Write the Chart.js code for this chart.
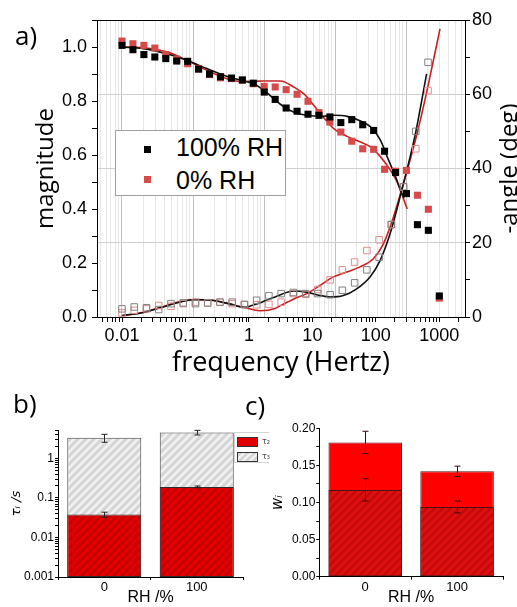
<!DOCTYPE html>
<html>
<head>
<meta charset="utf-8">
<script src="https://cdn.jsdelivr.net/npm/chart.js@4.4.1/dist/chart.umd.min.js"></script>
<style>
  html, body { margin:0; padding:0; background:#fff; }
  body { width:517px; height:607px; position:relative; overflow:hidden; }
  canvas { position:absolute; display:block; }
  .t { position:absolute; white-space:nowrap; color:#000; line-height:1; }
  .panel { font-family:"Open Sans", sans-serif; font-size:26px; }
  #legA { position:absolute; left:115px; top:130px; width:169px; height:64px; border:1px solid #a0a0a0; background:#fff; }
  #legA .sw { position:absolute; width:7px; height:7px; }
  #legA .tx { position:absolute; font-family:"Liberation Sans", Arial, sans-serif; font-size:25px; line-height:25px; white-space:nowrap; }
  #legB { position:absolute; left:234px; top:432px; width:34px; height:29px; border:1px solid #d4d4d4; border-right:none; background:#fff; }
  #legB .sw { position:absolute; left:2px; width:19px; height:8px; border:1px solid #333; }
  #legB .tx { position:absolute; left:27px; font-family:"DejaVu Sans", sans-serif; font-size:8px; line-height:8px; color:#444; }
</style>
</head>
<body>
<canvas id="ca" width="517" height="380" style="left:0;top:0"></canvas>
<canvas id="cb" width="262" height="222" style="left:0;top:385px"></canvas>
<canvas id="cc" width="255" height="222" style="left:262px;top:385px"></canvas>
<div class="t panel" style="left:15px;top:22px">a)</div>
<div class="t panel" style="left:13px;top:390px">b)</div>
<div class="t panel" style="left:245px;top:392px">c)</div>
<div id="legA"></div>
<div id="legB"></div>
<script>
// ---------------- DATA ----------------
const freq = [0.01,0.01487,0.02212,0.0329,0.04894,0.07279,0.1083,0.161,0.2395,0.3562,0.5298,0.788,1.172,1.743,2.593,3.857,5.736,8.532,12.69,18.88,28.08,41.75,62.1,92.37,137.4,204.3,303.9,452.0,672.3,1000];
const mag100 = [1.006,0.990,0.972,0.963,0.957,0.948,0.947,0.918,0.900,0.890,0.885,0.878,0.866,0.833,0.806,0.774,0.762,0.751,0.747,0.741,0.720,0.731,0.712,0.691,0.614,0.535,0.457,0.342,0.321,0.078];
const mag0 = [1.022,1.012,1.006,0.996,0.972,0.955,0.938,0.920,0.898,0.886,0.883,0.877,0.864,0.854,0.852,0.842,0.825,0.799,0.757,0.722,0.685,0.651,0.623,0.621,0.547,0.540,0.543,0.451,0.399,0.070];
const angFreq = [0.01,0.01487,0.02212,0.0329,0.04894,0.07279,0.1083,0.161,0.2395,0.3562,0.5298,0.788,1.172,1.743,2.593,3.857,5.736,8.532,12.69,18.88,28.08,41.75,62.1,92.37,137.4,204.3];
const ang100 = [2.2,2.7,2.5,2.0,3.6,3.8,3.6,3.8,4.0,4.0,3.4,4.5,5.7,6.3,6.6,6.3,6.3,6.0,7.2,9.2,12.7,16.1,24.9,35.1,50.0,68.6];
const ang0 = [1.1,1.8,2.2,3.1,2.9,3.6,4.0,3.8,4.0,3.6,3.3,3.3,3.4,4.0,6.3,6.1,7.4,10.0,12.7,14.8,17.9,20.8,24.9,35.0,45.3,61.0];

const fitMag100F = [0.01,0.0217,0.0507,0.105,0.217,0.45,0.73,1.19,1.71,3.13,5.07,8.24,13.4,21.7,35.3,57.3,82.4,118.6,151,205,245,277];
const fitMag100  = [1.0,0.994,0.975,0.951,0.92,0.891,0.877,0.864,0.84,0.788,0.759,0.747,0.743,0.747,0.743,0.726,0.704,0.654,0.593,0.519,0.469,0.44];
const fitMag0F = [0.01,0.0217,0.0507,0.105,0.217,0.45,0.73,1.19,1.71,3.13,5.07,7.29,10.5,15.1,21.7,35.3,57.3,82.4,118.6,170.6,217,312];
const fitMag0  = [1.0,0.997,0.982,0.951,0.914,0.882,0.872,0.873,0.874,0.874,0.852,0.827,0.784,0.738,0.698,0.669,0.648,0.630,0.593,0.543,0.5,0.40];
const fitAng100F = [0.01,0.0211,0.0362,0.0621,0.1067,0.183,0.315,0.54,0.67,0.927,1.43,2.59,3.99,6.15,8.51,13.1,20.2,31.1,43.1,59.6,82.3,134,195];
const fitAng100  = [0.4,1.3,2.6,3.9,4.7,4.5,3.6,2.6,3.1,4.0,5.4,7.0,6.7,5.8,5.4,5.8,7.6,10.8,15.2,22.4,32.3,48.9,65.5];
const fitAng0F = [0.01,0.0211,0.0362,0.0621,0.1067,0.183,0.315,0.54,0.88,1.43,1.68,2.59,3.99,6.15,9.48,14.6,22.5,34.7,48.0,66.4,91.7,141,195,301];
const fitAng0  = [0.3,1.35,2.7,4.0,4.66,4.5,3.6,2.5,1.7,2.3,3.0,4.8,6.3,8.5,10.8,12.1,13.5,15.7,19.7,26.9,35.9,48.9,60.5,77.6];

const xTickVals = [0.01,0.1,1,10,100,1000];
const xTickLabels = ['0.01','0.1','1','10','100','1000'];
const yTickVals = [0,0.2,0.4,0.6,0.8,1.0];
const yTickLabels = ['0.0','0.2','0.4','0.6','0.8','1.0'];
const y2TickVals = [0,20,40,60,80];
const y2TickLabels = ['0','20','40','60','80'];

const rhCats = ['0','100'];
const tau2 = [0.038,0.19];
const tau2Err = [0.0055,0.01];
const tau3 = [3.3,4.5];
const tau3Err = [0.75,0.6];
const bTickVals = [0.001,0.01,0.1,1];
const bTickLabels = ['0.001','0.01','0.1','1'];

const w2 = [0.181,0.142];
const w2Err = [0.015,0.007];
const w3 = [0.117,0.094];
const w3Err = [0.015,0.008];
const cTickVals = [0,0.05,0.10,0.15,0.20];
const cTickLabels = ['0.00','0.05','0.10','0.15','0.20'];

// ---------------- HELPERS ----------------
const pts = (xs, ys) => xs.map((x, i) => ({x, y: ys[i]}));
const near = (a, b) => Math.abs(a - b) <= 1e-6 * Math.max(1, Math.abs(b));
const labelFrom = (vals, labels) => (v) => { const k = vals.findIndex(t => near(v, t)); return k >= 0 ? labels[k] : ''; };
function logTicks(scale) {
  const out = [];
  for (let e = -4; e <= 4; e++) for (let m = 1; m <= 9; m++) {
    const v = +(m * Math.pow(10, e)).toPrecision(6);
    if (v >= scale.min * 0.9999 && v <= scale.max * 1.0001) out.push({value: v, major: m === 1});
  }
  scale.ticks = out;
}
const isDecade = (v) => near(Math.log10(v), Math.round(Math.log10(v)));
function hatch(base, stripe, size, lw) {
  const c = document.createElement('canvas'); c.width = size; c.height = size;
  const g = c.getContext('2d');
  g.fillStyle = base; g.fillRect(0, 0, size, size);
  g.strokeStyle = stripe; g.lineWidth = lw;
  g.beginPath();
  g.moveTo(0, size); g.lineTo(size, 0);
  g.moveTo(-size/2, size/2); g.lineTo(size/2, -size/2);
  g.moveTo(size/2, size*1.5); g.lineTo(size*1.5, size/2);
  g.stroke();
  return g.createPattern(c, 'repeat');
}
const errorBars = {
  id: 'errorBars',
  afterDatasetsDraw(chart) {
    const ctx = chart.ctx;
    chart.data.datasets.forEach((ds, di) => {
      if (!ds.errors) return;
      const meta = chart.getDatasetMeta(di);
      const ys = chart.scales[meta.yAxisID];
      meta.data.forEach((bar, i) => {
        const v = ds.data[i], e = ds.errors[i];
        const x = Math.round(bar.x) + 0.5;
        const yt = ys.getPixelForValue(v + e), yb = ys.getPixelForValue(v - e);
        ctx.save();
        ctx.strokeStyle = ds.errorColor || '#222'; ctx.lineWidth = 1;
        ctx.beginPath();
        ctx.moveTo(x, yt); ctx.lineTo(x, yb);
        ctx.moveTo(x - 3, yt); ctx.lineTo(x + 3, yt);
        ctx.moveTo(x - 3, yb); ctx.lineTo(x + 3, yb);
        ctx.stroke();
        ctx.restore();
      });
    });
  }
};
// right-axis title, read bottom-to-top like the reference (Chart.js would rotate it the other way)
const rightTitle = {
  id: 'rightTitle',
  afterDraw(chart, args, opts) {
    const {ctx, chartArea} = chart;
    ctx.save();
    ctx.font = opts.size + 'px "' + opts.family + '"';
    ctx.fillStyle = '#000';
    ctx.translate(opts.baselineX, (chartArea.top + chartArea.bottom) / 2);
    ctx.rotate(-Math.PI / 2);
    ctx.textAlign = 'center';
    ctx.textBaseline = 'alphabetic';
    ctx.fillText(opts.text, 0, 0);
    ctx.restore();
  }
};

const TICKF = 'Liberation Sans';
const TITLEF = 'Open Sans';
Chart.defaults.color = '#000';

// ---------------- PANEL A ----------------
const black = '#000000', redPt = 'rgb(214,74,74)', redLine = 'rgb(200,32,32)';
const dsA = [
  {label:'100% RH', data: pts(freq, mag100), xAxisID:'x', yAxisID:'y', pointStyle:'rect', pointRadius:5, backgroundColor:black, borderColor:black, borderWidth:0, legend:true},
  {label:'0% RH', data: pts(freq, mag0), xAxisID:'x', yAxisID:'y', pointStyle:'rect', pointRadius:5, backgroundColor:redPt, borderColor:redPt, borderWidth:0, legend:true},
  {label:'100% RH angle', data: pts(angFreq, ang100), xAxisID:'x2', yAxisID:'y2', pointStyle:'rect', pointRadius:4.6, backgroundColor:'rgba(255,255,255,0)', borderColor:'#808080', borderWidth:1},
  {label:'0% RH angle', data: pts(angFreq, ang0), xAxisID:'x2', yAxisID:'y2', pointStyle:'rect', pointRadius:4.6, backgroundColor:'rgba(255,255,255,0)', borderColor:'rgb(228,140,140)', borderWidth:1},
  {label:'fit 100% mag', data: pts(fitMag100F, fitMag100), xAxisID:'x', yAxisID:'y', showLine:true, pointRadius:0, borderColor:'#111', borderWidth:1.6, cubicInterpolationMode:'monotone'},
  {label:'fit 0% mag', data: pts(fitMag0F, fitMag0), xAxisID:'x', yAxisID:'y', showLine:true, pointRadius:0, borderColor:redLine, borderWidth:1.6, cubicInterpolationMode:'monotone'},
  {label:'fit 100% angle', data: pts(fitAng100F, fitAng100), xAxisID:'x2', yAxisID:'y2', showLine:true, pointRadius:0, borderColor:'#111', borderWidth:1.6, cubicInterpolationMode:'monotone'},
  {label:'fit 0% angle', data: pts(fitAng0F, fitAng0), xAxisID:'x2', yAxisID:'y2', showLine:true, pointRadius:0, borderColor:redLine, borderWidth:1.6, cubicInterpolationMode:'monotone'}
];

new Chart(document.getElementById('ca'), {
  type: 'scatter',
  data: { datasets: dsA },
  options: {
    responsive:false, animation:false, devicePixelRatio:1,
    layout:{ padding:{ left:32, right:0, top:20, bottom:0 } },
    plugins:{ legend:{display:false}, tooltip:{enabled:false},
              rightTitle:{ text:'-angle (deg)', family:TITLEF, size:24, baselineX:517 } },
    scales:{
      x:{ type:'logarithmic', position:'bottom', min:0.004036, max:2541,
          grid:{ drawOnChartArea:false, drawTicks:true, tickLength:5, tickColor:'#000' },
          border:{ display:true, color:'#000', width:1 },
          ticks:{ autoSkip:false, maxRotation:0, minRotation:0, padding:3, font:{family:TICKF, size:18}, color:'#000', callback: labelFrom(xTickVals, xTickLabels) },
          title:{ display:true, text:'frequency (Hertz)', font:{family:TITLEF, size:27}, padding:0, color:'#000' },
          afterBuildTicks: logTicks,
          afterFit: s => { s.height = 63; } },
      x2:{ type:'logarithmic', position:'top', min:0.004446, max:677,
          grid:{ drawOnChartArea:true, drawTicks:false, lineWidth:1, color: c => (c.tick && isDecade(c.tick.value)) ? '#c2c2c2' : '#e6e6e6' },
          border:{ display:true, color:'#000', width:1 },
          ticks:{ display:false, autoSkip:false },
          afterBuildTicks: logTicks,
          afterFit: s => { s.height = 0; } },
      y:{ type:'linear', position:'left', min:0, max:1.1,
          grid:{ drawOnChartArea:false, drawTicks:true, tickLength:5, tickColor:'#000' },
          border:{ display:true, color:'#000', width:1 },
          ticks:{ stepSize:0.1, autoSkip:false, padding:5, font:{family:TICKF, size:18}, color:'#000', callback: labelFrom(yTickVals, yTickLabels) },
          title:{ display:true, text:'magnitude', font:{family:TITLEF, size:24}, padding:0, color:'#000' },
          afterFit: s => { s.width = 65; } },
      y2:{ type:'linear', position:'right', min:0, max:80,
          grid:{ drawOnChartArea:true, drawTicks:true, tickLength:5, tickColor:'#000', color: c => (c.tick && [20,40,60].includes(c.tick.value)) ? '#d0d0d0' : 'rgba(0,0,0,0)' },
          border:{ display:true, color:'#000', width:1 },
          ticks:{ stepSize:10, autoSkip:false, padding:2, font:{family:TICKF, size:18}, color:'#000', callback: labelFrom(y2TickVals, y2TickLabels) },
          afterFit: s => { s.width = 52; } }
    }
  },
  plugins:[rightTitle]
});

// legend A (HTML, from datasets)
const legA = document.getElementById('legA');
dsA.filter(d => d.legend).forEach((d, i) => {
  const sw = document.createElement('div'); sw.className = 'sw';
  sw.style.left = '28px'; sw.style.top = (15 + i * 30) + 'px'; sw.style.background = d.backgroundColor;
  const tx = document.createElement('div'); tx.className = 'tx';
  tx.style.left = '60px'; tx.style.top = (4 + i * 33) + 'px'; tx.textContent = d.label;
  legA.appendChild(sw); legA.appendChild(tx);
});

// ---------------- PANEL B ----------------
const redHatch = hatch('#e00000', '#c40000', 8, 2);
const grayHatch = hatch('#d6d6d6', '#f2f2f2', 8, 2.5);
const dsB = [
  {label:'τ₂', data:tau2, errors:tau2Err, backgroundColor:redHatch, borderColor:'#2a2a2a', borderWidth:1, borderSkipped:false, order:0, legendCss:'#e00000'},
  {label:'τ₃', data:tau3, errors:tau3Err, backgroundColor:grayHatch, borderColor:'#444', borderWidth:1, borderSkipped:false, order:1, legendCss:'repeating-linear-gradient(135deg,#d6d6d6 0 3px,#f2f2f2 3px 5px)'}
];
new Chart(document.getElementById('cb'), {
  type:'bar',
  data:{ labels: rhCats, datasets: dsB },
  options:{
    responsive:false, animation:false, devicePixelRatio:1,
    layout:{ padding:{ left:9, right:19, top:45, bottom:0 } },
    datasets:{ bar:{ grouped:false, categoryPercentage:1, barPercentage:0.8 } },
    plugins:{ legend:{display:false}, tooltip:{enabled:false} },
    scales:{
      x:{ type:'category', grid:{ offset:true, drawOnChartArea:false, tickLength:3, tickColor:'#000' },
          border:{ color:'#000' },
          ticks:{ font:{family:TICKF, size:13}, padding:0, color:'#000' },
          title:{ display:true, text:'RH /%', font:{family:TICKF, size:16}, padding:0, color:'#000' },
          afterFit: s => { s.height = 30; } },
      y:{ type:'logarithmic', min:0.001, max:5.21,
          grid:{ drawOnChartArea:false, tickLength:3, tickColor:'#000' },
          border:{ color:'#000' },
          ticks:{ autoSkip:false, padding:1, font:{family:TICKF, size:12}, color:'#000', callback: labelFrom(bTickVals, bTickLabels) },
          title:{ display:true, text:'τᵢ /s', font:{family:'DejaVu Sans', size:13, style:'italic'}, padding:0, color:'#000' },
          afterBuildTicks: logTicks,
          afterFit: s => { s.width = 49; } }
    }
  },
  plugins:[errorBars]
});
const legB = document.getElementById('legB');
dsB.forEach((d, i) => {
  const sw = document.createElement('div'); sw.className = 'sw';
  sw.style.top = (4 + i * 15) + 'px'; sw.style.background = d.legendCss;
  const tx = document.createElement('div'); tx.className = 'tx';
  tx.style.top = (5 + i * 15) + 'px'; tx.textContent = d.label;
  legB.appendChild(sw); legB.appendChild(tx);
});

// ---------------- PANEL C ----------------
const darkRedHatch = hatch('#dc1010', '#c20808', 8, 2);
const dsC = [
  {label:'w₃', data:w3, errors:w3Err, backgroundColor:darkRedHatch, borderColor:'#501010', borderWidth:1, borderSkipped:false, order:0, errorColor:'#3a0a0a'},
  {label:'w₂', data:w2, errors:w2Err, backgroundColor:'#ff0000', borderColor:'#501010', borderWidth:1, borderSkipped:false, order:1, errorColor:'#3a0a0a'}
];
new Chart(document.getElementById('cc'), {
  type:'bar',
  data:{ labels: rhCats, datasets: dsC },
  options:{
    responsive:false, animation:false, devicePixelRatio:1,
    layout:{ padding:{ left:7, right:14, top:43.3, bottom:0 } },
    datasets:{ bar:{ grouped:false, categoryPercentage:1, barPercentage:0.8 } },
    plugins:{ legend:{display:false}, tooltip:{enabled:false} },
    scales:{
      x:{ type:'category', grid:{ offset:true, drawOnChartArea:false, tickLength:3, tickColor:'#000' },
          border:{ color:'#000' },
          ticks:{ font:{family:TICKF, size:13}, padding:0, color:'#000' },
          title:{ display:true, text:'RH /%', font:{family:TICKF, size:16}, padding:0, color:'#000' },
          afterFit: s => { s.height = 30.3; } },
      y:{ type:'linear', min:0, max:0.2,
          grid:{ drawOnChartArea:false, tickLength:3, tickColor:'#000' },
          border:{ color:'#000' },
          ticks:{ stepSize:0.025, autoSkip:false, padding:1, font:{family:TICKF, size:12}, color:'#000', callback: labelFrom(cTickVals, cTickLabels) },
          title:{ display:true, text:'wᵢ', font:{family:'DejaVu Sans', size:15, style:'italic'}, padding:0, color:'#000' },
          afterFit: s => { s.width = 50.3; } }
    }
  },
  plugins:[errorBars]
});
</script>
</body>
</html>
